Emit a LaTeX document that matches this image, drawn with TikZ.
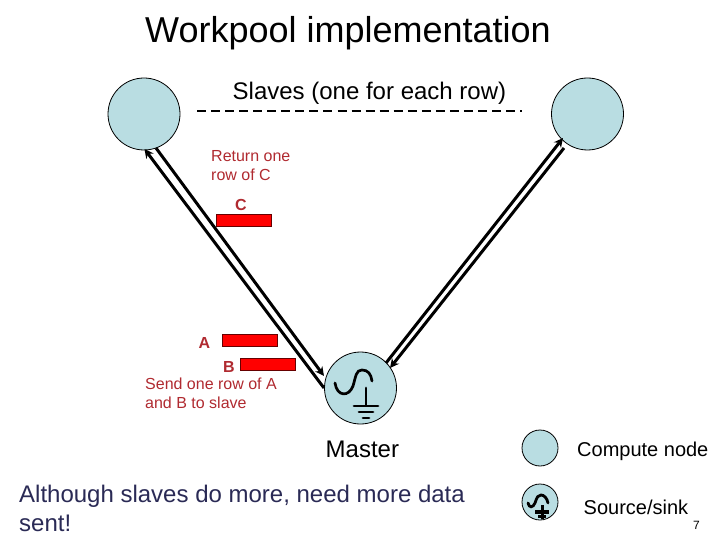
\documentclass[tikz,border=0pt]{standalone}
\usepackage{fontspec}
\setmainfont{Liberation Sans}
\definecolor{nodefill}{HTML}{B9DDE2}
\definecolor{redtxt}{HTML}{B02A30}
\definecolor{navytxt}{HTML}{2A2A55}
\usetikzlibrary{arrows.meta}
\tikzset{
 comp/.style={circle,draw=black,line width=0.8pt,fill=nodefill,inner sep=0pt,minimum size=#1},
 bar/.style={draw=black!60!red,line width=0.5pt,fill=red,inner sep=0pt,minimum width=55pt,minimum height=12pt},
 lab/.style={inner sep=0pt,align=left,anchor=west},
 link/.style={line width=3pt,black},
 linkarrow/.style={link,-{Stealth[length=9pt,width=9pt]}},
 sym/.style={line width=2.7pt,line cap=round},
 fs/.style={font=\fontsize{#1}{#1}\selectfont}
}
\begin{document}
\begin{tikzpicture}[x=1pt,y=-1pt]
\useasboundingbox (0,0) rectangle (720,540);
\node[lab,fs=36] (title) at (145,33) {Workpool implementation};
\node[lab,fs=24] (slaves) at (232.5,93) {Slaves (one for each row)};
\coordinate (dl) at (197,111);
\coordinate (dr) at (522,111);
\draw[line width=2.6pt,dash pattern=on 9pt off 5.05pt] (dl) -- (dr);
\node[comp=72pt] (s1) at (144,114) {};
\node[comp=72pt] (s2) at (587.5,114) {};
\node[comp=72pt] (m) at (360.5,388) {};
% ground and wave on master
\draw[sym] (335,383) .. controls (337,397) and (349,397) .. (353,386) .. controls (356,376) and (356,370) .. (362,370) .. controls (368,370) and (371,374) .. (372,381);
\draw[sym] (366,388) -- (366,405);
\draw[sym] (354,406) -- (378,406);
\draw[sym] (359,412) -- (373,412);
\draw[sym] (363,418) -- (369,418);
% links
\coordinate (a1) at (324,388);
\coordinate (a2) at (144.5,149);
\coordinate (b1) at (156,148);
\coordinate (b2) at (324,376);
\coordinate (c1) at (386,363);
\coordinate (c2) at (563,138);
\coordinate (d1) at (564,148);
\coordinate (d2) at (390,368);
\draw[linkarrow] (a1) -- (a2);
\draw[linkarrow] (b1) -- (b2);
\draw[linkarrow] (c1) -- (c2);
\draw[linkarrow] (d1) -- (d2);
% red text
\node[lab,text=redtxt,font=\fontsize{16}{19}\selectfont] (ret) at (211,166) {Return one\\row of C};
\node[fs=16,text=redtxt,inner sep=0pt] (lc) at (241,205) {\bfseries C};
\node[bar] (bc) at (243.5,220) {};
\node[fs=16,text=redtxt,inner sep=0pt] (la) at (204.5,343) {\bfseries A};
\node[bar] (ba) at (249.5,340) {};
\node[fs=16,text=redtxt,inner sep=0pt] (lb) at (229,367) {\bfseries B};
\node[bar] (bb) at (267.5,364) {};
\node[lab,text=redtxt,font=\fontsize{16}{19}\selectfont] (send) at (145,393.5) {Send one row of A\\and B to slave};
% labels
\node[lab,fs=24] (mlab) at (325.5,449) {Master};
\node[lab,text=navytxt,font=\fontsize{24}{29}\selectfont] (note) at (19,508) {Although slaves do more, need more data\\sent!};
% legend
\node[comp=36pt] (lg1) at (540,448) {};
\node[comp=36pt] (lg2) at (540,502) {};
\draw[line width=2.8pt,line cap=round] (528,503) .. controls (529,508) and (533,508) .. (535,503) .. controls (537,497) and (538,495) .. (541,495) .. controls (544,495) and (547,498) .. (548,503);
\draw[line width=3pt] (542,505) -- (542,519);
\draw[line width=3.6pt] (535,512) -- (549,512);
\draw[line width=3pt] (538,516) -- (546,516);
\node[lab,fs=20] (lt1) at (577,451.5) {Compute node};
\node[lab,fs=20] (lt2) at (583.5,507) {Source/sink};
\node[lab,fs=12] (pg) at (693,525.5) {7};
\end{tikzpicture}
\end{document}
